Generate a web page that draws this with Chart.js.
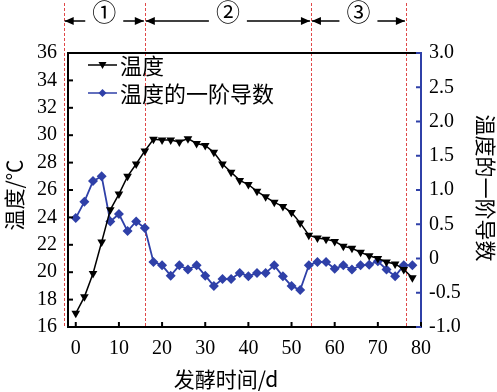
<!DOCTYPE html>
<html><head><meta charset="utf-8">
<script src="https://cdn.jsdelivr.net/npm/chart.js@4/dist/chart.umd.min.js"></script>
<style>html,body{margin:0;padding:0;background:#fff;}#wrap{width:497px;height:392px;}</style>
</head><body><div id="wrap"><canvas id="c" width="497" height="392"></canvas></div>
<script>
const days = [0,2,4,6,8,10,12,14,16,18,20,22,24,26,28,30,32,34,36,38,40,42,44,46,48,50,52,54,56,58,60,62,64,66,68,70,72,74,76,78];
const temperature = [17.0,18.2,19.9,22.2,24.55,25.7,27.0,27.9,28.85,29.7,29.65,29.65,29.5,29.75,29.4,29.25,28.75,27.9,27.3,26.7,26.4,25.9,25.5,25.1,24.8,24.35,23.6,22.7,22.5,22.4,22.25,21.9,21.75,21.45,21.2,21.0,20.75,20.6,20.2,19.6];
const derivative = [0.59,0.83,1.13,1.20,0.54,0.65,0.40,0.54,0.445,-0.05,-0.10,-0.25,-0.10,-0.16,-0.10,-0.25,-0.40,-0.30,-0.30,-0.21,-0.26,-0.21,-0.21,-0.10,-0.26,-0.40,-0.46,-0.10,-0.05,-0.05,-0.15,-0.10,-0.16,-0.10,-0.09,-0.04,-0.16,-0.26,-0.10,-0.10];
const dayTicks = [0,10,20,30,40,50,60,70,80];
const tempTicks = [16,18,20,22,24,26,28,30,32,34,36];
const derivTicks = [-1,-0.5,0,0.5,1,1.5,2,2.5,3];
const phaseBounds = [-2.8,16,54.5,76.5];
const phaseLabels = ['①','②','③'];
const seriesNames = ['温度','温度的一阶导数'];
const xTitle = '发酵时间/d';
const yTitle = '温度/℃';
const y1Title = '温度的一阶导数';

const BLUE = '#2f40a8';
const NUM_FONT = '"Liberation Serif","Times New Roman",serif';
const CJK_FONT = '"Noto Sans CJK SC","Noto Sans",sans-serif';

function arrow(ctx, x1, x2, y, headAtEnd) {
  ctx.beginPath(); ctx.moveTo(x1, y); ctx.lineTo(x2, y); ctx.stroke();
  const hx = headAtEnd ? x2 : x1;
  const dir = headAtEnd ? -1 : 1;
  ctx.beginPath();
  ctx.moveTo(hx, y);
  ctx.lineTo(hx + dir * 9, y - 4);
  ctx.lineTo(hx + dir * 9, y + 4);
  ctx.closePath(); ctx.fill();
}

const decor = {
  id: 'decor',
  beforeDatasetsDraw(chart) {
    const {ctx, chartArea, scales} = chart;
    ctx.save();
    ctx.strokeStyle = '#e04848';
    ctx.lineWidth = 1;
    ctx.setLineDash([3, 2]);
    phaseBounds.forEach(v => {
      const px = Math.round(scales.x.getPixelForValue(v)) + 0.5;
      ctx.beginPath(); ctx.moveTo(px, 3); ctx.lineTo(px, chartArea.bottom); ctx.stroke();
    });
    ctx.restore();
  },
  afterDraw(chart) {
    const {ctx, chartArea: ca, scales} = chart;
    ctx.save();
    ctx.strokeStyle = '#000'; ctx.lineWidth = 2;
    ctx.beginPath(); ctx.moveTo(ca.left - 1, ca.top); ctx.lineTo(ca.right, ca.top); ctx.stroke();
    ctx.lineWidth = 2;
    scales.y.ticks.forEach(t => {
      const py = scales.y.getPixelForValue(t.value);
      ctx.beginPath(); ctx.moveTo(ca.left, py); ctx.lineTo(ca.left + 5, py); ctx.stroke();
    });
    scales.x.ticks.forEach(t => {
      const px = scales.x.getPixelForValue(t.value);
      ctx.beginPath(); ctx.moveTo(px, ca.bottom); ctx.lineTo(px, ca.bottom - 5); ctx.stroke();
    });
    ctx.strokeStyle = BLUE;
    scales.y1.ticks.forEach(t => {
      const py = scales.y1.getPixelForValue(t.value);
      ctx.beginPath(); ctx.moveTo(ca.right, py); ctx.lineTo(ca.right - 5, py); ctx.stroke();
    });
    ctx.strokeStyle = '#000'; ctx.fillStyle = '#000'; ctx.lineWidth = 1.5;
    ctx.font = '24px ' + CJK_FONT;
    ctx.textAlign = 'center'; ctx.textBaseline = 'middle';
    for (let i = 0; i < phaseLabels.length; i++) {
      const a = scales.x.getPixelForValue(phaseBounds[i]) + 1;
      const b = scales.x.getPixelForValue(phaseBounds[i + 1]) - 1;
      const m = (a + b) / 2;
      arrow(ctx, a, m - 19, 21, false);
      arrow(ctx, m + 19, b, 21, true);
      ctx.fillText(phaseLabels[i], m, 12);
    }
    const rows = [
      {name: seriesNames[0], color: '#000', style: 'tri', y: 65},
      {name: seriesNames[1], color: BLUE, style: 'dia', y: 93}
    ];
    rows.forEach(r => {
      ctx.strokeStyle = r.color; ctx.fillStyle = r.color; ctx.lineWidth = 1.5;
      ctx.beginPath(); ctx.moveTo(88, r.y); ctx.lineTo(117, r.y); ctx.stroke();
      const cx = 102.5;
      ctx.beginPath();
      if (r.style === 'tri') {
        ctx.moveTo(cx - 4, r.y - 3); ctx.lineTo(cx + 4, r.y - 3); ctx.lineTo(cx, r.y + 4);
      } else {
        ctx.moveTo(cx, r.y - 4); ctx.lineTo(cx + 4, r.y); ctx.lineTo(cx, r.y + 4); ctx.lineTo(cx - 4, r.y);
      }
      ctx.closePath(); ctx.fill();
      ctx.fillStyle = '#000';
      ctx.font = '22px ' + CJK_FONT;
      ctx.textAlign = 'left'; ctx.textBaseline = 'middle';
      ctx.fillText(r.name, 120, r.y + 1);
    });
    ctx.fillStyle = '#000';
    ctx.font = '21px ' + CJK_FONT;
    ctx.textAlign = 'center'; ctx.textBaseline = 'middle';
    ctx.fillText(xTitle, 226, 379);
    ctx.save(); ctx.translate(14, 195); ctx.rotate(-Math.PI / 2);
    ctx.fillText(yTitle, 0, 0); ctx.restore();
    ctx.save(); ctx.translate(486, 188); ctx.rotate(Math.PI / 2);
    ctx.fillText(y1Title, 0, 0); ctx.restore();
    ctx.restore();
  }
};

new Chart(document.getElementById('c'), {
  type: 'line',
  data: {
    datasets: [
      {
        label: seriesNames[0],
        data: days.map((d, i) => ({x: d, y: temperature[i]})),
        yAxisID: 'y',
        borderColor: '#000', backgroundColor: '#000', borderWidth: 1.5,
        pointStyle: 'triangle', rotation: 180, pointRadius: 5, pointBorderWidth: 0,
        tension: 0
      },
      {
        label: seriesNames[1],
        data: days.map((d, i) => ({x: d, y: derivative[i]})),
        yAxisID: 'y1',
        borderColor: BLUE, backgroundColor: BLUE, borderWidth: 1.8,
        pointStyle: 'rectRot', pointRadius: 5, pointBorderWidth: 0,
        tension: 0
      }
    ]
  },
  options: {
    responsive: false,
    devicePixelRatio: 1,
    animation: false,
    layout: {padding: {top: 53, left: 0, right: 0, bottom: 0}},
    plugins: {legend: {display: false}, tooltip: {enabled: false}},
    scales: {
      x: {
        type: 'linear', min: -1.8, max: 80,
        afterBuildTicks: s => { s.ticks = dayTicks.map(v => ({value: v})); },
        afterFit: s => { s.height = 65; },
        grid: {display: false, drawTicks: false},
        border: {display: true, color: '#000', width: 2},
        ticks: {color: '#000', font: {family: NUM_FONT, size: 20}, padding: 10, maxRotation: 0}
      },
      y: {
        position: 'left', min: 16, max: 36,
        afterBuildTicks: s => { s.ticks = tempTicks.map(v => ({value: v})); },
        afterFit: s => { s.width = 68; },
        grid: {display: false, drawTicks: false},
        border: {display: true, color: '#000', width: 2},
        ticks: {color: '#000', font: {family: NUM_FONT, size: 20}, padding: 11}
      },
      y1: {
        position: 'right', min: -1, max: 3,
        afterBuildTicks: s => { s.ticks = derivTicks.map(v => ({value: v})); },
        afterFit: s => { s.width = 76; },
        grid: {display: false, drawTicks: false},
        border: {display: true, color: BLUE, width: 2},
        ticks: {color: '#000', font: {family: NUM_FONT, size: 20}, padding: 8,
          callback: v => v === 0 ? '0' : Number(v).toFixed(1)}
      }
    }
  },
  plugins: [decor]
});
</script></body></html>
